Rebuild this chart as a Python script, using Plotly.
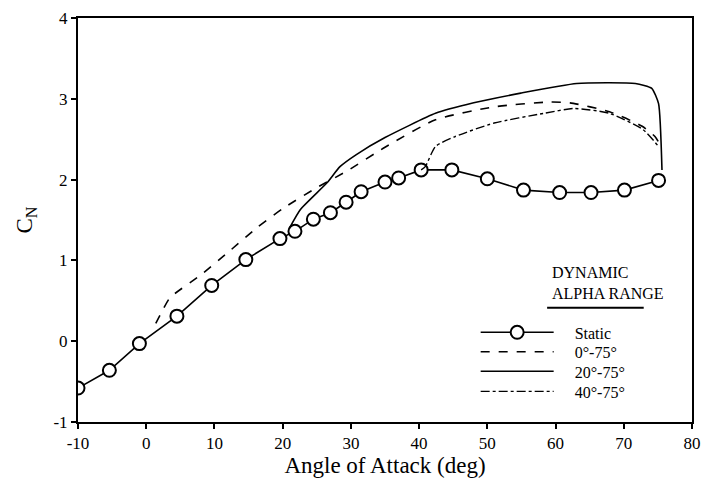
import plotly.graph_objects as go

# Static data
static_x = [-10, -5.4, -1.0, 4.5, 9.6, 14.6, 19.6, 21.8, 24.5, 27.0, 29.3, 31.5, 35.0, 37.0, 40.3, 44.8, 50.0, 55.3, 60.6, 65.2, 70.1, 75.1]
static_y = [-0.58, -0.36, -0.03, 0.31, 0.69, 1.01, 1.27, 1.36, 1.51, 1.59, 1.72, 1.85, 1.97, 2.02, 2.12, 2.12, 2.01, 1.87, 1.84, 1.84, 1.87, 1.99]

# Dynamic 0-75
d0_x = [1.4, 2.5, 3.5, 8.0, 12.0, 16.3, 20.0, 25.0, 29.3, 35.0, 42.4, 51.0, 59.2, 62.1, 67.9, 72.7, 74.6, 75.4]
d0_y = [0.22, 0.40, 0.54, 0.82, 1.10, 1.41, 1.64, 1.90, 2.10, 2.40, 2.74, 2.90, 2.96, 2.95, 2.84, 2.66, 2.53, 2.42]

# Dynamic 20-75
d20_x = [21.0, 22.6, 26.5, 28.4, 30.8, 35.0, 42.4, 48.0, 54.9, 63.1, 71.7, 74.1, 75.1, 75.6]
d20_y = [1.40, 1.63, 1.96, 2.16, 2.31, 2.52, 2.82, 2.95, 3.07, 3.19, 3.19, 3.13, 2.94, 2.12]

# Dynamic 40-75
d40_x = [40.3, 40.9, 42.4, 45.2, 51.0, 58.3, 62.7, 67.9, 72.8, 75.1]
d40_y = [2.12, 2.16, 2.41, 2.53, 2.70, 2.82, 2.88, 2.82, 2.62, 2.41]

series_names = ["Static", "0°-75°", "20°-75°", "40°-75°"]
x_ticks = [-10, 0, 10, 20, 30, 40, 50, 60, 70, 80]
y_ticks = [-1, 0, 1, 2, 3, 4]

serif = "Liberation Serif, Times New Roman, serif"
PAD = "\u00a0" * 4

fig = go.Figure()
fig.add_trace(go.Scatter(
    x=static_x, y=static_y, mode="lines+markers", name=PAD + series_names[0], legend="legend",
    line=dict(color="black", width=1.6),
    marker=dict(symbol="circle", size=13, color="white", line=dict(color="black", width=2)),
))
fig.add_trace(go.Scatter(
    x=d0_x, y=d0_y, mode="lines", name=PAD + series_names[1], legend="legend2",
    line=dict(color="black", width=1.6, dash="dash", shape="spline", smoothing=0.6),
))
fig.add_trace(go.Scatter(
    x=d20_x, y=d20_y, mode="lines", name=PAD + series_names[2], legend="legend3",
    line=dict(color="black", width=1.6, shape="spline", smoothing=0.5),
))
fig.add_trace(go.Scatter(
    x=d40_x, y=d40_y, mode="lines", name=PAD + series_names[3], legend="legend4",
    line=dict(color="black", width=1.4, dash="dashdot", shape="spline", smoothing=0.6),
))

PLOT_H = 407.0
BOTTOM = 422.0
LEFT = 78.0
PLOT_W = 623.0


def py(p):
    return (BOTTOM - p) / PLOT_H


def px(p):
    return (p - LEFT) / PLOT_W


def leg(yc):
    return dict(
        x=px(481.5), y=py(yc), xanchor="left", yanchor="middle",
        bgcolor="rgba(0,0,0,0)", font=dict(family=serif, size=16),
        itemwidth=73, borderwidth=0,
    )


fig.update_layout(
    width=710, height=484,
    margin=dict(l=78, r=9, t=15, b=62),
    paper_bgcolor="white", plot_bgcolor="white",
    font=dict(family=serif, color="black", size=16),
    showlegend=True,
    legend=leg(331.7), legend2=leg(351.3), legend3=leg(371.0), legend4=leg(391.2),
)
fig.add_annotation(
    text="DYNAMIC<br>ALPHA RANGE", xref="paper", yref="paper",
    x=px(557), y=py(261), xanchor="left", yanchor="top",
    showarrow=False, align="left", font=dict(family=serif, size=16),
)
fig.add_shape(
    type="line", xref="paper", yref="paper",
    x0=px(554), x1=px(652), y0=py(307), y1=py(307),
    line=dict(color="black", width=2),
)

fig.update_xaxes(
    range=[-10, 80], tickvals=x_ticks, ticktext=[str(v) for v in x_ticks],
    showgrid=False, zeroline=False, showline=True, linecolor="black", linewidth=2,
    mirror=True, ticks="outside", ticklen=5, tickwidth=1.5, tickcolor="black",
    tickfont=dict(family=serif, size=17),
    title=dict(text="Angle of Attack (deg)", font=dict(family=serif, size=23), standoff=4),
)
fig.update_yaxes(
    range=[-1, 4], tickvals=y_ticks, ticktext=[str(v) for v in y_ticks],
    showgrid=False, zeroline=False, showline=True, linecolor="black", linewidth=2,
    mirror=True, ticks="outside", ticklen=5, tickwidth=1.5, tickcolor="black",
    tickfont=dict(family=serif, size=17),
    title=dict(text="C<sub>N</sub>", font=dict(family=serif, size=23), standoff=14),
)

fig.write_html("out.html")
